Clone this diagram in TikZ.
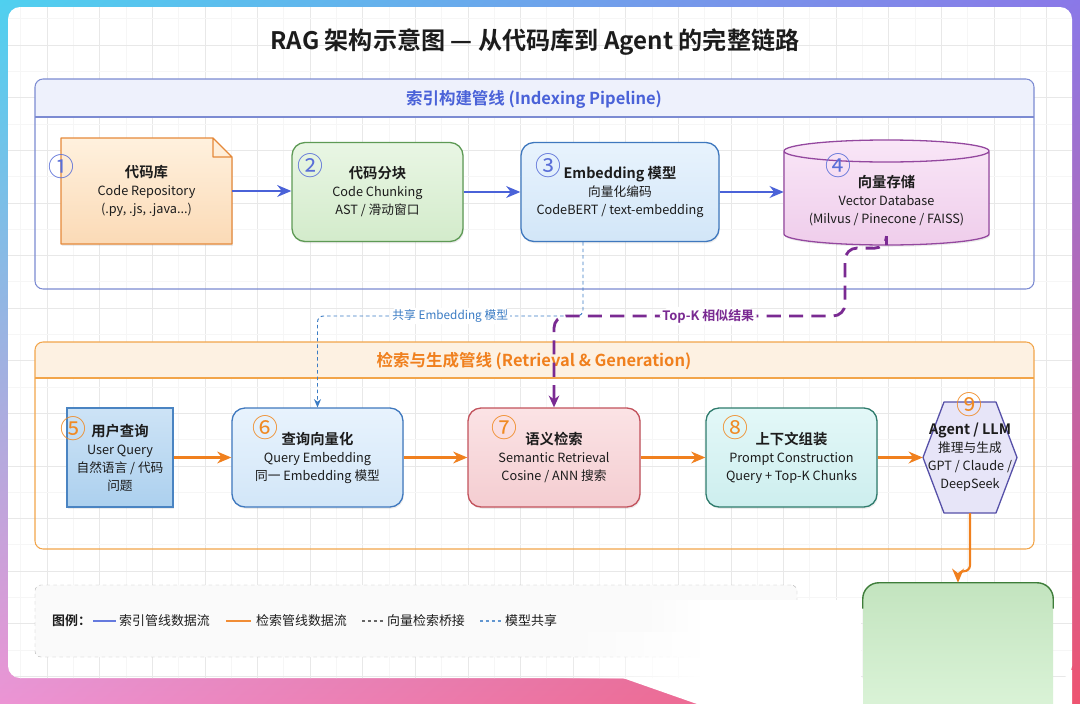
\documentclass[tikz,border=0pt]{standalone}
\usepackage{fontspec}
\setmainfont{Noto Sans CJK SC}[BoldFont={Noto Sans CJK SC Bold}]
\usetikzlibrary{arrows.meta,positioning,shadows,shadings,fadings,calc}
\newdimen\pxu \pxu=0.85pt
\definecolor{ink}{HTML}{1C1C1C}
\definecolor{idxblue}{HTML}{4A62D8}
\definecolor{idxline}{HTML}{7C8BD2}
\definecolor{idxhead}{HTML}{EEF1FC}
\definecolor{idxnum}{HTML}{5A6FD8}
\definecolor{retorange}{HTML}{F0801E}
\definecolor{retline}{HTML}{F2A54A}
\definecolor{rethead}{HTML}{FDF1E2}
\definecolor{retnum}{HTML}{F08A24}
\definecolor{topkpurple}{HTML}{7A2A92}
\definecolor{sharedblue}{HTML}{3B7CC4}
\definecolor{bgcyan}{HTML}{4FD0EF}
\definecolor{bgviolet}{HTML}{8A78E8}
\definecolor{bgpink}{HTML}{EC94D4}
\definecolor{bgred}{HTML}{EE5470}
% node colours
\definecolor{repoline}{HTML}{E5893A}
\definecolor{repotop}{HTML}{FFF1DE}
\definecolor{repobot}{HTML}{FBDAB6}
\definecolor{chunkline}{HTML}{5E9A55}
\definecolor{chunktop}{HTML}{E9F6E4}
\definecolor{chunkbot}{HTML}{D3EBCB}
\definecolor{embline}{HTML}{3F78BE}
\definecolor{embtop}{HTML}{E8F3FD}
\definecolor{embbot}{HTML}{D2E6F8}
\definecolor{vdbline}{HTML}{94489F}
\definecolor{vdbtop}{HTML}{F9E6F7}
\definecolor{vdbbot}{HTML}{EFCDEB}
\definecolor{queryline}{HTML}{4A84C2}
\definecolor{querytop}{HTML}{CDE3F6}
\definecolor{querybot}{HTML}{ACD0EE}
\definecolor{retrline}{HTML}{C2525C}
\definecolor{retrtop}{HTML}{FBE3E5}
\definecolor{retrbot}{HTML}{F4CDD1}
\definecolor{promptline}{HTML}{2E7B6C}
\definecolor{prompttop}{HTML}{E3F8F8}
\definecolor{promptbot}{HTML}{CDEEEE}
\definecolor{llmline}{HTML}{5650A8}
\definecolor{llmfill}{HTML}{E7E5F8}
\definecolor{ansline}{HTML}{3E7D3A}
\definecolor{anstop}{HTML}{C3E4BF}
\definecolor{ansbot}{HTML}{DFF6DC}
\newcommand\boxhead[1]{{\fontsize{12.2}{15.3}\selectfont\bfseries #1}}
\tikzfading[name=fadein, left color=transparent!100, right color=transparent!0]

\begin{document}
\begin{tikzpicture}[x=0.85pt,y=-0.85pt,
   box/.style={draw, rounded corners=13\pxu, line width=1.1pt, align=center, text=ink,
     font=\fontsize{10.8}{15.3}\selectfont, minimum width=171\pxu, minimum height=99\pxu,
     inner sep=1pt, drop shadow={opacity=0.15,shadow xshift=0.8pt,shadow yshift=-1.5pt}},
   shapetext/.style={align=center, text=ink, font=\fontsize{10.8}{15.3}\selectfont, inner sep=0pt},
   numidx/.style={text=idxnum, font=\fontsize{22}{22}\selectfont, inner sep=0pt},
   numret/.style={numidx, text=retnum},
   grouptitle/.style={font=\fontsize{14}{16}\selectfont\bfseries},
   idxflow/.style={draw=idxblue, line width=1.9pt, -{Stealth[length=12pt,width=10pt]}},
   retflow/.style={draw=retorange, line width=1.8pt, -{Stealth[length=12pt,width=10pt]}},
   shareflow/.style={draw=sharedblue, line width=0.8pt, dash pattern=on 3pt off 2.5pt,
     -{Stealth[length=7pt,width=6pt]}, rounded corners=6\pxu},
   topkflow/.style={draw=topkpurple, line width=2.4pt, dash pattern=on 12pt off 7pt,
     -{Stealth[length=10pt,width=9pt]}, rounded corners=12\pxu},
   legtext/.style={anchor=west, text=ink, font=\fontsize{11}{13}\selectfont, inner sep=0pt}]
\useasboundingbox (0,0) rectangle (1080,704);
% backdrop and card
\shade[upper left=bgcyan, upper right=bgviolet, lower left=bgpink, lower right=bgred]
  (0,0) rectangle (1080,704);
\fill[white, rounded corners=12\pxu] (8,7) rectangle (1072,678);
\fill[white] (600,670) -- (1072,670) -- (1072,704) -- (697,704) -- cycle;
\begin{scope}
  \clip[rounded corners=12\pxu] (8,7) rectangle (1072,678);
  \foreach \k in {-1,...,20} {
    \draw[gray!7] ({73.3+52.6*\k},7) -- ({73.3+52.6*\k},704);
    \draw[gray!18] ({47+52.6*\k},7) -- ({47+52.6*\k},704);
  }
  \foreach \k in {-1,...,13} {
    \draw[gray!7] (8,{71.3+52.6*\k}) -- (1072,{71.3+52.6*\k});
    \draw[gray!18] (8,{45+52.6*\k}) -- (1072,{45+52.6*\k});
  }
\end{scope}

\node[text=ink, font=\fontsize{20.5}{24}\selectfont\bfseries] (title) at (535,42)
  {RAG 架构示意图 — 从代码库到 Agent 的完整链路};

% indexing pipeline
\fill[idxhead, rounded corners=8\pxu] (35,79) rectangle (1034,117);
\fill[idxhead] (35,105) rectangle (1034,117);
\draw[idxline, line width=0.9pt] (35,117) -- (1034,117);
\draw[idxline, line width=0.9pt, rounded corners=8\pxu] (35,79) rectangle (1034,289);
\node[grouptitle, text=idxblue] (idxtitle) at (534,99) {索引构建管线 (Indexing Pipeline)};

% retrieval pipeline
\fill[rethead, rounded corners=8\pxu] (35,342) rectangle (1034,378);
\fill[rethead] (35,365) rectangle (1034,378);
\draw[retline, line width=0.9pt] (35,378) -- (1034,378);
\draw[retline, line width=0.9pt, rounded corners=8\pxu] (35,342) rectangle (1034,549);
\node[grouptitle, text=retorange] (rettitle) at (534,361) {检索与生成管线 (Retrieval \& Generation)};

% shapes drawn directly
\path[top color=repotop, bottom color=repobot,
  drop shadow={opacity=0.15,shadow xshift=0.8pt,shadow yshift=-1.5pt}]
  (61,138) -- (213,138) -- (232,157) -- (232,244) -- (61,244) -- cycle;
\draw[repoline, line width=1.1pt, line join=round]
  (61,138) -- (213,138) -- (232,157) -- (232,244) -- (61,244) -- cycle
  (213,138) -- (213,157) -- (232,157);
\path[top color=vdbtop, bottom color=vdbbot,
  drop shadow={opacity=0.15,shadow xshift=0.8pt,shadow yshift=-1.5pt}]
  (784,151) -- (784,234) arc[start angle=180,end angle=0,x radius=102.5,y radius=11]
  -- (989,151) arc[start angle=0,end angle=-180,x radius=102.5,y radius=11] -- cycle;
\draw[vdbline, line width=1.1pt]
  (784,151) -- (784,234) arc[start angle=180,end angle=0,x radius=102.5,y radius=11]
  -- (989,151) (886.5,151) ellipse[x radius=102.5,y radius=11];
\path[fill=llmfill, draw=llmline, line width=1.1pt, line join=round]
  (944,402) -- (996,402) -- (1017,457.5) -- (996,513) -- (944,513) -- (923,457.5) -- cycle;

% indexing nodes
\node[shapetext, minimum width=171\pxu, minimum height=106\pxu] (repo) at (146.5,191)
  {\boxhead{代码库}\\Code Repository\\(.py, .js, .java...)};
\node[box, draw=chunkline, top color=chunktop, bottom color=chunkbot]
  (chunk) at (377.5,192) {\boxhead{代码分块}\\Code Chunking\\AST / 滑动窗口};
\node[box, minimum width=198\pxu, draw=embline, top color=embtop, bottom color=embbot]
  (embed) at (620,192) {\boxhead{Embedding 模型}\\向量化编码\\CodeBERT / text-embedding};
\node[shapetext, minimum width=205\pxu, minimum height=106\pxu] (vdb) at (886.5,192) {};
\node[shapetext] (vdbtext) at (886.5,201)
  {\boxhead{向量存储}\\Vector Database\\(Milvus / Pinecone / FAISS)};

% retrieval nodes
\node[box, sharp corners, minimum width=106\pxu, draw=queryline, top color=querytop, bottom color=querybot]
  (query) at (120,457.5) {\boxhead{用户查询}\\User Query\\自然语言 / 代码\\问题};
\node[box, draw=embline, top color=embtop, bottom color=embbot]
  (qembed) at (317.5,457.5) {\boxhead{查询向量化}\\Query Embedding\\同一 Embedding 模型};
\node[box, minimum width=172\pxu, draw=retrline, top color=retrtop, bottom color=retrbot]
  (retr) at (554,457.5) {\boxhead{语义检索}\\Semantic Retrieval\\Cosine / ANN 搜索};
\node[box, draw=promptline, top color=prompttop, bottom color=promptbot]
  (prompt) at (791.5,457.5) {\boxhead{上下文组装}\\Prompt Construction\\Query + Top-K Chunks};
\node[shapetext, minimum width=94\pxu, minimum height=111\pxu] (llm) at (970,457.5)
  {\boxhead{Agent / LLM}\\推理与生成\\GPT / Claude /\\DeepSeek};
\node[rounded corners=16\pxu, top color=anstop, bottom color=ansbot,
  minimum width=190\pxu, minimum height=150\pxu] (answer) at (958,658) {};
\draw[ansline, line width=1.2pt, rounded corners=16\pxu]
  ([yshift=-22pt]answer.north west) -- (answer.north west) -- (answer.north east)
  -- ([yshift=-22pt]answer.north east);

% legend
\node[draw=gray!55, dashed, fill=gray!4, rounded corners=6\pxu,
  minimum width=762\pxu, minimum height=72\pxu] (legend) at (416,621) {};
\node[legtext, font=\fontsize{11}{13}\selectfont\bfseries] (legtitle) at (52,621) {图例：};
\node[legtext] (legidx) at (119,621) {索引管线数据流};
\node[legtext] (legret) at (256,621) {检索管线数据流};
\node[legtext] (legbridge) at (387,621) {向量检索桥接};
\node[legtext] (legshare) at (505,621) {模型共享};
\draw[idxblue!85, line width=1.3pt] ([xshift=-26\pxu]legidx.west) -- ([xshift=-3\pxu]legidx.west);
\draw[retorange!90, line width=1.3pt] ([xshift=-30\pxu]legret.west) -- ([xshift=-5\pxu]legret.west);
\draw[gray!80!black, line width=0.9pt, dash pattern=on 2.5pt off 2.5pt]
  ([xshift=-25\pxu]legbridge.west) -- ([xshift=-3\pxu]legbridge.west);
\draw[sharedblue!80, line width=0.9pt, dash pattern=on 2.5pt off 2.5pt]
  ([xshift=-25\pxu]legshare.west) -- ([xshift=-4\pxu]legshare.west);
% washed-out corner below the legend
\fill[white, path fading=fadein] (560,632) rectangle (700,679);
\fill[white] (700,600) rectangle (861,679);
\fill[white, path fading=fadein] (640,600) rectangle (700,632);

% step numbers
\node[numidx] (n1) at (61,167) {①};
\node[numidx] (n2) at (310,166) {②};
\node[numidx] (n3) at (548,166) {③};
\node[numidx] (n4) at (838,166) {④};
\node[numret] (n5) at (73,429) {⑤};
\node[numret] (n6) at (265,428) {⑥};
\node[numret] (n7) at (504,428) {⑦};
\node[numret] (n8) at (735,428) {⑧};
\node[numret] (n9) at (969,405) {⑨};

% flows
\draw[idxflow] (repo.east) -- (repo.east -| chunk.west);
\draw[idxflow] (chunk.east) -- (embed.west);
\draw[idxflow] (embed.east) -- (embed.east -| vdb.west);
\draw[retflow] (query.east) -- (qembed.west);
\draw[retflow] (qembed.east) -- (retr.west);
\draw[retflow] (retr.east) -- (prompt.west);
\draw[retflow] (prompt.east) -- (llm.west);
\draw[retflow, rounded corners=6\pxu] (llm.south) -- ++(0,58) -| (answer.north);

% bridges between the pipelines
\coordinate (sharebend) at (583,316);
\draw[shareflow] (embed.south -| sharebend) -- (sharebend) -|
  node[pos=0.25, fill=white, inner sep=1.5pt, text=sharedblue, font=\fontsize{10}{12}\selectfont]
  (sharelabel) {共享 Embedding 模型} (qembed.north);
\coordinate (topkdrop) at (845,248);
\coordinate (topkbend) at (845,316);
\draw[topkflow] (vdb.south) -- ++(0,3) -- (topkdrop) -- (topkbend) --
  node[pos=0.47, fill=white, inner sep=2pt, text=topkpurple, font=\fontsize{11}{13}\selectfont\bfseries]
  (topklabel) {Top-K 相似结果} (retr.north |- topkbend) -- (retr.north);
\end{tikzpicture}
\end{document}
